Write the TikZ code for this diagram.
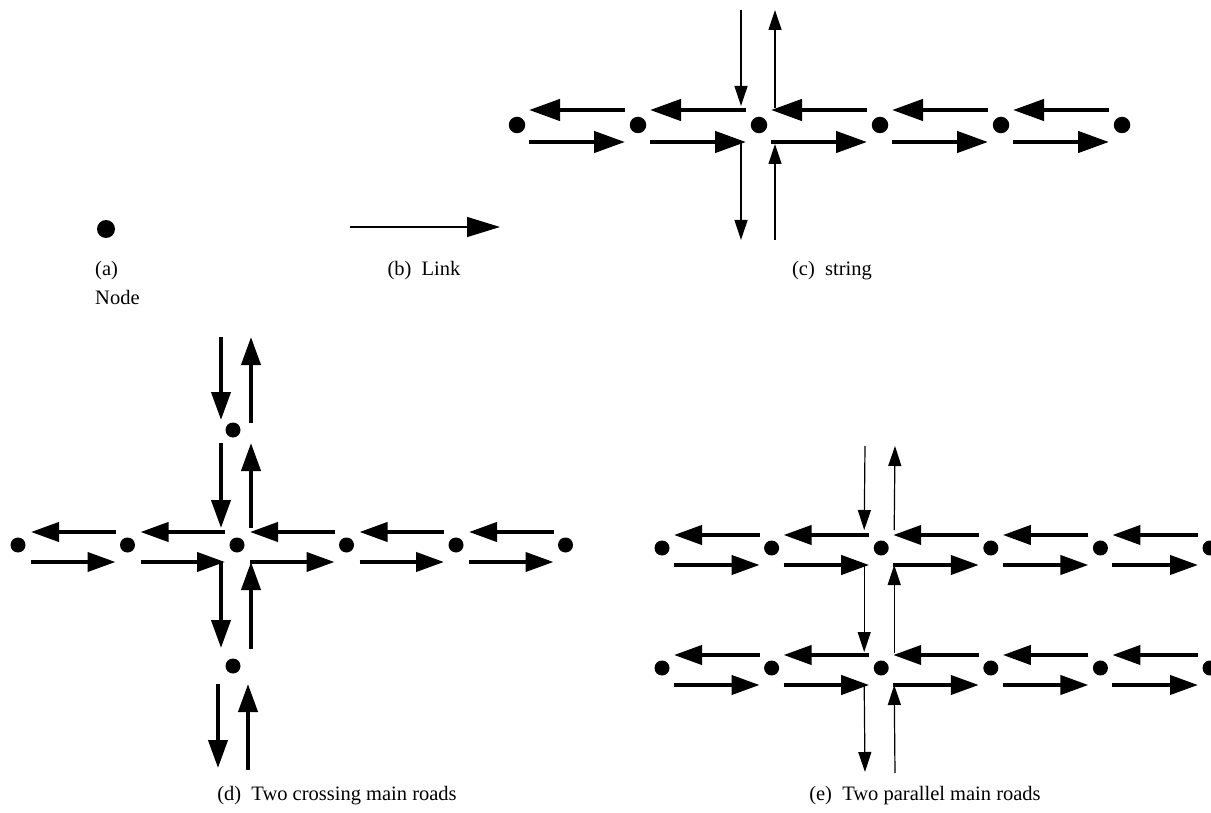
\documentclass[tikz,border=0pt]{standalone}
\usepackage{fontspec}
\setmainfont{Liberation Serif}
\usetikzlibrary{arrows.meta,calc}
\begin{document}
\begin{tikzpicture}[x=1pt,y=-1pt,
  dot/.style={circle,fill=black,draw=none,inner sep=0pt,minimum size=15pt},
  thickarrow/.style={line width=4pt,-{Triangle[length=28pt,width=19pt]}},
  bigarrow/.style={line width=4.4pt,-{Triangle[length=31pt,width=21pt]}},
  thinarrow/.style={line width=1.2pt,-{Triangle[length=20pt,width=13pt]}},
  lbl/.style={inner sep=0pt,anchor=base,font=\fontsize{20.5}{24}\selectfont}]
\clip (0,0) rectangle (1211,813);
\fill[white] (0,0) rectangle (1211,813);

% (a) node
\node[dot,minimum size=18pt] (na) at (106,229) {};
% (b) link
\coordinate (bs) at (350,227);
\coordinate (be) at (500,227);
\draw[line width=1.3pt,-{Triangle[length=33pt,width=20pt]}] (bs) -- (be);

% (c) string
\foreach \i in {1,...,6} \node[dot,minimum size=16.5pt] (c\i) at ({517+121*(\i-1)},125) {};
\foreach \i/\j in {1/2,2/3,3/4,4/5,5/6} {
  \draw[bigarrow] ($(c\j)+(-13,-15)$) -- ($(c\i)+(12,-15)$);
  \draw[bigarrow] ($(c\i)+(12,17)$) -- ($(c\j)+(-13,17)$);
}
\coordinate (cN1) at ($(c3)+(-18,-115)$);
\coordinate (cN2) at ($(c3)+(16,-115)$);
\coordinate (cS1) at ($(c3)+(-18,115)$);
\coordinate (cS2) at ($(c3)+(16,115)$);
\draw[thinarrow] (cN1) -- ($(c3)+(-18,-19)$);
\draw[thinarrow] ($(c3)+(16,-17)$) -- (cN2);
\draw[thinarrow] ($(c3)+(-18,17)$) -- (cS1);
\draw[thinarrow] (cS2) -- ($(c3)+(16,19)$);

% (d) two crossing main roads
\foreach \i in {1,...,6} \node[dot] (d\i) at ({18+109.5*(\i-1)},545) {};
\node[dot] (dt) at (233,430) {};
\node[dot] (db) at (233,666) {};
\foreach \i/\j in {1/2,2/3,3/4,4/5,5/6} {
  \draw[thickarrow] ($(d\j)+(-12,-13)$) -- ($(d\i)+(13,-13)$);
  \draw[thickarrow] ($(d\i)+(13,17)$) -- ($(d\j)+(-12,17)$);
}
\coordinate (dN1) at (221,337);
\coordinate (dN2) at (251,337);
\coordinate (dS1) at (218,768);
\coordinate (dS2) at (248,770);
\draw[thickarrow] (dN1) -- ($(dt)+(-12,-10)$);
\draw[thickarrow] ($(dt)+(18,-7)$) -- (dN2);
\draw[thickarrow] ($(dt)+(-12,13)$) -- ($(d3)+(-16,-17)$);
\draw[thickarrow] ($(d3)+(14,-17)$) -- ($(dt)+(18,13)$);
\draw[thickarrow] ($(d3)+(-16,17)$) -- ($(db)+(-12,-18)$);
\draw[thickarrow] ($(db)+(18,-17)$) -- ($(d3)+(14,17)$);
\draw[thickarrow] ($(db)+(-15,18)$) -- (dS1);
\draw[thickarrow] (dS2) -- ($(db)+(15,18)$);

% (e) two parallel main roads
\foreach \i in {1,...,6} {
  \node[dot] (e\i) at ({662+109.6*(\i-1)},548) {};
  \node[dot] (f\i) at ({662+109.6*(\i-1)},668) {};
}
\foreach \i/\j in {1/2,2/3,3/4,4/5,5/6} {
  \draw[thickarrow] ($(e\j)+(-12,-13)$) -- ($(e\i)+(12,-13)$);
  \draw[thickarrow] ($(e\i)+(12,17)$) -- ($(e\j)+(-12,17)$);
  \draw[thickarrow] ($(f\j)+(-12,-13)$) -- ($(f\i)+(12,-13)$);
  \draw[thickarrow] ($(f\i)+(12,17)$) -- ($(f\j)+(-12,17)$);
}
\coordinate (eN1) at (865,446);
\coordinate (eN2) at (895,446);
\coordinate (fS1) at (865,772);
\coordinate (fS2) at (895,773);
\draw[thinarrow] (eN1) -- ($(e3)+(-17,-18)$);
\draw[thinarrow] ($(e3)+(13,-18)$) -- (eN2);
\draw[thinarrow] ($(e3)+(-17,17)$) -- ($(f3)+(-17,-16)$);
\draw[thinarrow] ($(f3)+(13,-15)$) -- ($(e3)+(13,17)$);
\draw[thinarrow] ($(f3)+(-17,17)$) -- (fS1);
\draw[thinarrow] (fS2) -- ($(f3)+(13,17)$);

% captions
\node[lbl,anchor=base west] (la1) at (95,276) {(a)};
\node[lbl,anchor=base west] (la2) at (95,305) {Node};
\node[lbl] (lb) at (424,276) {(b)\hspace{0.5em}Link};
\node[lbl] (lc) at (832,276) {(c)\hspace{0.5em}string};
\node[lbl] (ld) at (337,800) {(d)\hspace{0.5em}Two crossing main roads};
\node[lbl] (le) at (925,800) {(e)\hspace{0.5em}Two parallel main roads};
\end{tikzpicture}
\end{document}
